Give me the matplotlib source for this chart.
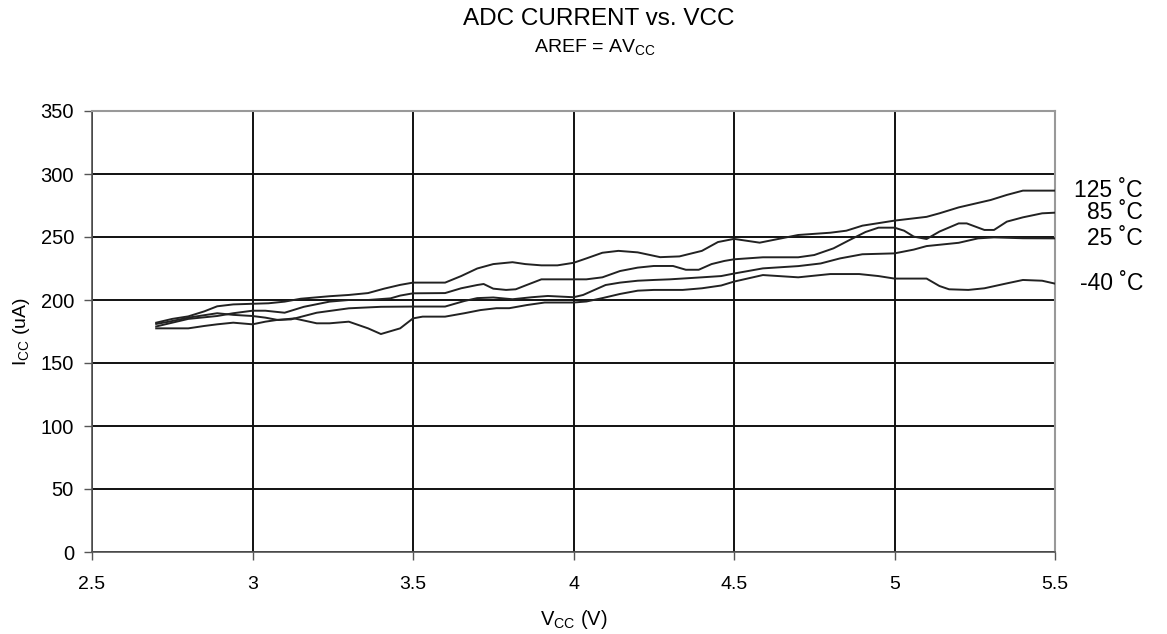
import numpy as np
import matplotlib
matplotlib.use('Agg')
import matplotlib.pyplot as plt
import matplotlib.transforms as mtransforms

plt.rcParams['font.family'] = ['Liberation Sans', 'DejaVu Sans']
plt.rcParams['mathtext.fontset'] = 'custom'
plt.rcParams['mathtext.rm'] = 'Liberation Sans'

# values (Vcc in V, Icc in uA)
v_125 = [2.70, 2.75, 2.80, 2.85, 2.89, 2.94, 3.00, 3.05, 3.10, 3.15, 3.24, 3.30, 3.36, 3.41, 3.46,
         3.50, 3.60, 3.65, 3.70, 3.75, 3.81, 3.85, 3.90, 3.95, 4.00, 4.04, 4.09, 4.14, 4.20, 4.27,
         4.33, 4.40, 4.45, 4.50, 4.58, 4.70, 4.80, 4.85, 4.90, 4.95, 5.00, 5.10, 5.14, 5.20, 5.30,
         5.35, 5.40, 5.50]
i_125 = [182, 185, 187, 191, 195, 196.5, 197, 197.4, 198.7, 201, 203, 204, 205.5, 209, 212,
         213.8, 213.8, 219, 225, 228.5, 230, 228.5, 227.5, 227.5, 229.5, 233, 237.5, 239, 237.8, 234,
         234.6, 239, 246, 248.5, 245.5, 251.6, 253.4, 255, 259, 261, 263, 266, 268.8, 273.5, 279.4,
         283.4, 286.8, 286.8]

v_85 = [2.70, 2.80, 2.89, 2.94, 3.00, 3.04, 3.10, 3.16, 3.24, 3.30, 3.36, 3.43, 3.46, 3.50, 3.60,
        3.65, 3.70, 3.72, 3.75, 3.79, 3.82, 3.85, 3.90, 4.00, 4.04, 4.09, 4.145, 4.20, 4.25, 4.31,
        4.35, 4.39, 4.43, 4.47, 4.50, 4.59, 4.70, 4.75, 4.81, 4.86, 4.91, 4.95, 5.00, 5.03, 5.06,
        5.10, 5.14, 5.20, 5.225, 5.28, 5.31, 5.35, 5.40, 5.46, 5.50]
i_85 = [179, 185, 187.3, 189.5, 191.5, 191.5, 189.9, 194.6, 198.7, 200, 200, 201.3, 203.5, 205.3, 205.5,
        209.3, 211.9, 212.7, 209, 208, 208.5, 211.5, 216.4, 216.4, 216.4, 218, 223, 225.7, 227, 227,
        224, 224, 228.5, 231, 232.3, 233.9, 233.9, 235.7, 241, 247.6, 254, 257.4, 257.4, 255, 250.3,
        248.4, 254.3, 260.8, 260.8, 255.6, 255.6, 262.2, 265.6, 268.8, 269.3]

v_25 = [2.70, 2.80, 2.85, 2.89, 2.94, 3.00, 3.04, 3.08, 3.12, 3.20, 3.30, 3.40, 3.50, 3.60, 3.66,
        3.70, 3.75, 3.81, 3.87, 3.92, 4.00, 4.03, 4.06, 4.10, 4.145, 4.20, 4.25, 4.30, 4.35, 4.40,
        4.46, 4.50, 4.59, 4.70, 4.77, 4.83, 4.90, 5.00, 5.06, 5.10, 5.20, 5.26, 5.31, 5.40, 5.50]
i_25 = [177.5, 177.5, 179.4, 180.7, 182, 180.7, 182.8, 184.3, 184.6, 189.9, 193.4, 194.6, 194.8, 194.8, 199.2,
        201.5, 202, 200.6, 202.2, 203.2, 202.2, 204, 207.4, 211.9, 213.8, 215.3, 215.9, 216.4, 217.2, 218,
        219, 221, 225.1, 226.9, 229, 233, 236.3, 237, 240, 242.8, 245.4, 248.9, 249.7, 249, 248.9]

v_m40 = [2.70, 2.74, 2.80, 2.89, 2.94, 3.00, 3.04, 3.08, 3.13, 3.20, 3.24, 3.30, 3.36, 3.40, 3.46,
         3.50, 3.53, 3.60, 3.66, 3.71, 3.76, 3.80, 3.855, 3.91, 4.00, 4.04, 4.09, 4.145, 4.20, 4.25,
         4.34, 4.40, 4.46, 4.50, 4.59, 4.70, 4.80, 4.89, 4.95, 5.00, 5.10, 5.14, 5.17, 5.23, 5.28,
         5.35, 5.40, 5.46, 5.50]
i_m40 = [181, 182.8, 186, 189.5, 188.2, 187.3, 186, 184.1, 185.4, 181.5, 181.5, 182.8, 177.5, 173, 177.5,
         185.4, 186.8, 186.8, 189.5, 192, 193.5, 193.5, 196, 198, 198, 198.8, 201.5, 204.8, 207.4, 208,
         208, 209.3, 211.5, 214.6, 219.8, 218, 220.6, 220.6, 219, 217, 217, 211.1, 208.5, 208, 209.3,
         213.2, 215.9, 215.3, 213]

series = [(v_125, i_125, '125 ˚C'), (v_85, i_85, '85 ˚C'), (v_25, i_25, '25 ˚C'), (v_m40, i_m40, '-40 ˚C')]
x_ticks = [2.5, 3, 3.5, 4, 4.5, 5, 5.5]
x_ticklabels = ['2.5', '3', '3.5', '4', '4.5', '5', '5.5']
y_ticks = [0, 50, 100, 150, 200, 250, 300, 350]

fig = plt.figure(figsize=(11.67, 6.34), dpi=100)
ax = fig.add_axes([92 / 1167, 1 - 552 / 634, (1055 - 92) / 1167, (552 - 111) / 634])

for v, i, name in series:
    ax.plot(v, i, color='#222222', lw=1.4, zorder=3)

ax.set_xlim(2.5, 5.5)
ax.set_ylim(0, 350)
ax.set_xticks(x_ticks)
ax.set_xticklabels(x_ticklabels)
ax.set_yticks(y_ticks)
ax.grid(True, color='#111111', lw=1.4, zorder=1)
ax.tick_params(direction='out', length=6, width=1, color='#555555', labelsize=14.5, pad=7)
ax.tick_params(axis='x', labelsize=14, pad=11)
for s in ['left', 'bottom']:
    ax.spines[s].set_color('#555555')
    ax.spines[s].set_linewidth(1.2)
for s in ['top', 'right']:
    ax.spines[s].set_color('#999999')
    ax.spines[s].set_linewidth(1.5)

ax.set_xlabel(r'$\mathregular{V_{CC}}$ (V)', fontsize=14.5, labelpad=11)
ax.set_ylabel(r'$\mathregular{I_{CC}}$ (uA)', fontsize=14, labelpad=6)

trans = mtransforms.blended_transform_factory(fig.transFigure, ax.transData)
for v, i, name in series:
    ax.text(1143 / 1167, i[-1], name, transform=trans, ha='right', va='center', fontsize=16.5)

fig.text(0.513, 1 - 19 / 634, 'ADC CURRENT vs. VCC', ha='center', va='center', fontsize=17.5)
fig.text(0.51, 1 - 47 / 634, r'AREF = AV$\mathregular{_{CC}}$', ha='center', va='center', fontsize=14)

fig.savefig('out.png', dpi=100)
